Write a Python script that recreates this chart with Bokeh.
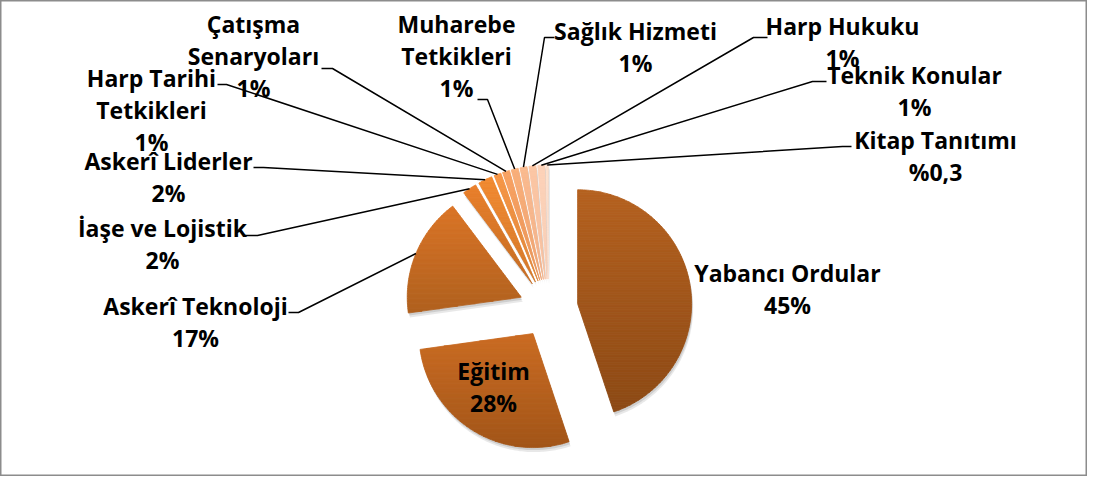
import numpy as np
from bokeh.plotting import figure
from bokeh.models import Range1d, ColumnDataSource
from bokeh.core.properties import value
from bokeh.embed import file_html
from bokeh.resources import INLINE

# ---------------- data ----------------
categories = ["Yabancı Ordular", "Eğitim", "Askerî Teknoloji", "İaşe ve Lojistik",
              "Askerî Liderler", "Harp Tarihi Tetkikleri", "Çatışma Senaryoları",
              "Muharebe Tetkikleri", "Sağlık Hizmeti", "Harp Hukuku",
              "Teknik Konular", "Kitap Tanıtımı"]
shares = [45, 28, 17, 2, 2, 1, 1, 1, 1, 1, 1, 0.3]
share_labels = ["45%", "28%", "17%", "2%", "2%", "1%", "1%", "1%", "1%", "1%", "1%", "%0,3"]
name_lines = [["Yabancı Ordular"], ["Eğitim"], ["Askerî Teknoloji"], ["İaşe ve Lojistik"],
              ["Askerî Liderler"], ["Harp Tarihi", "Tetkikleri"], ["Çatışma", "Senaryoları"],
              ["Muharebe", "Tetkikleri"], ["Sağlık Hizmeti"], ["Harp Hukuku"],
              ["Teknik Konular"], ["Kitap Tanıtımı"]]

# ---------------- styles / layout ----------------
top_colors = ["#B5611F", "#CB6C23", "#DA7527", "#E9802C", "#F28A30", "#F79646",
              "#F8A262", "#F9AE78", "#FABA8E", "#FBC6A4", "#FCD2B8", "#FDDFCC"]
bot_colors = ["#8C4914", "#A25518", "#B0601E", "#C46C24", "#D4782A", "#E08638",
              "#EA965A", "#F0A472", "#F4B28A", "#F7C0A0", "#F9CEB6", "#FBDCCA"]
center = (548.0, 308.0)
radius = 114.0
explode = 29.5
label_pos = [(787, 272), (493, 370), (195, 305), (162, 227), (168, 160), (151, 77),
             (253, 23), (456, 23), (635, 30), (842, 25), (914, 74), (935, 139)]
line_gap = 32
# leader: (x start at label, x elbow, y)
leaders = {2: (288, 298, 312), 3: (243, 257, 235), 4: (253, 263, 167), 5: (217, 226, 84),
           6: (321, 332, 68), 7: (477, 487, 99), 8: (554, 544, 37), 9: (767, 753, 37),
           10: (826, 812, 81), 11: (851, 842, 146)}
FONT = "Open Sans"
FSIZE = "23px"
W, H = 1087, 476


def hex2rgb(h):
    h = h.lstrip("#")
    return np.array([int(h[i:i + 2], 16) for i in (0, 2, 4)], dtype=float)


def rgb2hex(c):
    c = np.clip(np.round(c), 0, 255).astype(int)
    return "#%02x%02x%02x" % tuple(c)


def direction(theta_deg):
    t = np.radians(theta_deg)
    return np.sin(t), -np.cos(t)   # clockwise from 12 o'clock, screen y downwards


def clip_half(pts, yc, keep_ge):
    out = []
    n = len(pts)
    for i in range(n):
        cur = pts[i]
        prev = pts[i - 1]
        cin = cur[1] >= yc if keep_ge else cur[1] <= yc
        pin = prev[1] >= yc if keep_ge else prev[1] <= yc
        if cin:
            if not pin:
                t = (yc - prev[1]) / (cur[1] - prev[1])
                out.append((prev[0] + t * (cur[0] - prev[0]), yc))
            out.append(cur)
        elif pin:
            t = (yc - prev[1]) / (cur[1] - prev[1])
            out.append((prev[0] + t * (cur[0] - prev[0]), yc))
    return out


total = float(sum(shares))
angles = np.concatenate([[0.0], np.cumsum(shares) / total * 360.0])

slices = []
anchor_pts = []
for i in range(len(shares)):
    a0, a1 = angles[i], angles[i + 1]
    mid = 0.5 * (a0 + a1)
    dx, dy = direction(mid)
    ax, ay = center[0] + explode * dx, center[1] + explode * dy
    n = max(3, int(np.ceil((a1 - a0) / 1.0)) + 1)
    th = np.linspace(a0, a1, n)
    pts = [(ax, ay)] + [(ax + radius * direction(t)[0], ay + radius * direction(t)[1]) for t in th]
    slices.append(pts)
    anchor_pts.append((ax + radius * dx, ay + radius * dy))

# ---------------- figure ----------------
p = figure(width=W, height=H, x_range=Range1d(0, W), y_range=Range1d(H, 0),
           output_backend="svg", toolbar_location=None, min_border=0,
           x_axis_type=None, y_axis_type=None)
p.grid.visible = False
p.outline_line_color = "#8c8c8c"
p.outline_line_width = 2
p.background_fill_color = "white"
p.border_fill_color = "white"

# shadows
for off, alpha in [((1.5, 4.5), 0.18), ((1.0, 2.5), 0.25)]:
    sx = [[q[0] + off[0] for q in s] for s in slices]
    sy = [[q[1] + off[1] for q in s] for s in slices]
    p.patches(sx, sy, fill_color="#7f7f7f", fill_alpha=alpha, line_color=None)

# slices with vertical gradient (bands)
bxs, bys, bcol = [], [], []
band = 2.5
for i, pts in enumerate(slices):
    ys = [q[1] for q in pts]
    ymin, ymax = min(ys), max(ys)
    ctop, cbot = hex2rgb(top_colors[i]), hex2rgb(bot_colors[i])
    y = ymin
    while y < ymax:
        y2 = min(y + band, ymax)
        poly = clip_half(pts, y, True)
        if poly:
            poly = clip_half(poly, y2, False)
        if len(poly) >= 3:
            f = ((y + y2) / 2 - ymin) / (ymax - ymin)
            bxs.append([q[0] for q in poly])
            bys.append([q[1] for q in poly])
            bcol.append(rgb2hex(ctop + (cbot - ctop) * f))
        y = y2
src = ColumnDataSource(dict(xs=bxs, ys=bys, c=bcol))
p.patches("xs", "ys", source=src, fill_color="c", line_color="c", line_width=0.8)

# leader lines
for i, (xs0, xe, ly) in leaders.items():
    axp, ayp = anchor_pts[i]
    p.line([xs0, xe, axp], [ly, ly, ayp], line_color="black", line_width=1.5)

# labels
tx, ty, tt = [], [], []
for i in range(len(categories)):
    cx, cy = label_pos[i]
    lines = name_lines[i] + [share_labels[i]]
    for k, ln in enumerate(lines):
        tx.append(cx)
        ty.append(cy + k * line_gap)
        tt.append(ln)
p.text(tx, ty, text=tt, text_font=value(FONT), text_font_style="bold",
       text_font_size=FSIZE, text_align="center", text_baseline="middle",
       text_color="black")

open("out.html", "w").write(file_html(p, INLINE))
